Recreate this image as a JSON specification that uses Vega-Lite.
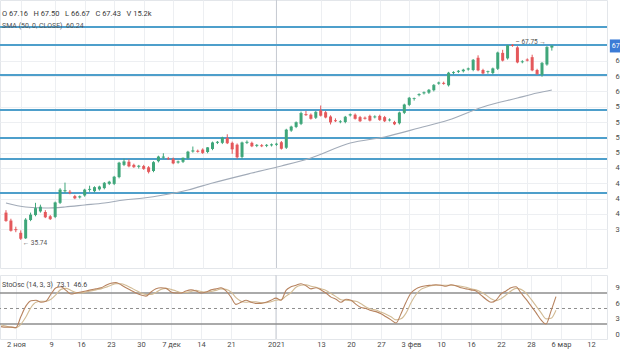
{
 "$schema": "https://vega.github.io/schema/vega-lite/v6.json",
 "autosize": {"type": "none"},
 "padding": {"left": 0, "top": 0, "right": 620, "bottom": 364},
 "background": "white",
 "config": {"view": {"stroke": "#e3e6ea", "strokeWidth": 1}},
 "spacing": 5,
 "datasets": {
  "candles": [
   {"i":0,"o":40.2,"h":40.6,"l":38.7,"c":38.9},{"i":1,"o":38.9,"h":39.2,"l":37.1,"c":37.3},{"i":2,"o":37.5,"h":37.9,"l":37.0,"c":37.4},{"i":3,"o":36.9,"h":37.3,"l":35.74,"c":36.0},
   {"i":4,"o":36.0,"h":39.3,"l":35.9,"c":39.0},{"i":5,"o":39.0,"h":40.2,"l":38.8,"c":39.8},{"i":6,"o":39.8,"h":41.8,"l":39.6,"c":40.9},{"i":7,"o":40.4,"h":41.5,"l":40.2,"c":41.1},
   {"i":8,"o":40.3,"h":40.6,"l":39.3,"c":39.5},{"i":9,"o":39.6,"h":39.8,"l":39.0,"c":39.2},{"i":10,"o":39.5,"h":42.0,"l":39.3,"c":41.8},{"i":11,"o":41.8,"h":44.2,"l":41.6,"c":43.9},
   {"i":12,"o":43.7,"h":45.1,"l":43.4,"c":43.8},{"i":13,"o":43.6,"h":43.9,"l":43.2,"c":43.5},{"i":14,"o":42.9,"h":43.1,"l":42.4,"c":42.6},{"i":15,"o":42.7,"h":43.0,"l":42.5,"c":42.8},
   {"i":16,"o":43.0,"h":44.1,"l":42.8,"c":43.9},{"i":17,"o":43.9,"h":44.6,"l":43.6,"c":44.0},{"i":18,"o":43.7,"h":44.5,"l":43.5,"c":44.3},{"i":19,"o":44.0,"h":44.6,"l":43.8,"c":44.4},
   {"i":20,"o":44.2,"h":45.2,"l":44.0,"c":45.0},{"i":21,"o":44.9,"h":45.4,"l":44.7,"c":45.2},{"i":22,"o":44.9,"h":46.2,"l":44.7,"c":46.0},{"i":23,"o":46.0,"h":48.5,"l":45.8,"c":48.3},
   {"i":24,"o":48.0,"h":49.0,"l":47.8,"c":48.5},{"i":25,"o":48.5,"h":48.9,"l":47.6,"c":47.8},{"i":26,"o":48.0,"h":48.2,"l":47.5,"c":47.7},{"i":27,"o":47.7,"h":48.0,"l":47.4,"c":47.8},
   {"i":28,"o":47.8,"h":48.0,"l":47.2,"c":47.4},{"i":29,"o":47.6,"h":47.8,"l":46.6,"c":46.9},{"i":30,"o":47.0,"h":48.6,"l":46.8,"c":48.4},{"i":31,"o":48.6,"h":49.5,"l":48.4,"c":49.3},
   {"i":32,"o":49.2,"h":49.9,"l":49.0,"c":49.3},{"i":33,"o":49.05,"h":49.3,"l":48.8,"c":49.0},{"i":34,"o":49.0,"h":49.2,"l":48.1,"c":48.3},{"i":35,"o":48.4,"h":48.7,"l":48.2,"c":48.5},
   {"i":36,"o":48.5,"h":49.2,"l":48.3,"c":49.1},{"i":37,"o":49.1,"h":50.3,"l":48.9,"c":50.1},{"i":38,"o":50.2,"h":51.0,"l":50.0,"c":50.3},{"i":39,"o":50.3,"h":50.5,"l":50.0,"c":50.2},
   {"i":40,"o":50.5,"h":50.7,"l":49.8,"c":50.0},{"i":41,"o":50.1,"h":50.9,"l":49.9,"c":50.8},{"i":42,"o":50.6,"h":51.8,"l":50.4,"c":51.6},{"i":43,"o":51.6,"h":51.9,"l":51.4,"c":51.7},
   {"i":44,"o":51.6,"h":52.6,"l":51.4,"c":52.4},{"i":45,"o":52.4,"h":53.0,"l":51.4,"c":51.6},{"i":46,"o":51.6,"h":51.8,"l":49.8,"c":50.6},{"i":47,"o":51.3,"h":51.5,"l":49.0,"c":49.3},
   {"i":48,"o":49.3,"h":51.8,"l":49.0,"c":51.6},{"i":49,"o":51.6,"h":52.0,"l":51.4,"c":51.7},{"i":50,"o":51.6,"h":51.8,"l":50.9,"c":51.1},{"i":51,"o":51.1,"h":51.4,"l":50.9,"c":51.2},
   {"i":52,"o":51.2,"h":51.4,"l":50.9,"c":51.1},{"i":53,"o":51.1,"h":51.4,"l":50.9,"c":51.2},{"i":54,"o":51.2,"h":51.5,"l":51.0,"c":51.3},{"i":55,"o":51.3,"h":51.6,"l":51.1,"c":51.4},
   {"i":56,"o":51.7,"h":51.9,"l":50.5,"c":50.7},{"i":57,"o":50.8,"h":53.9,"l":50.6,"c":53.7},{"i":58,"o":53.6,"h":54.4,"l":53.4,"c":54.2},{"i":59,"o":54.2,"h":55.1,"l":54.0,"c":54.9},
   {"i":60,"o":54.7,"h":56.7,"l":54.5,"c":56.4},{"i":61,"o":56.3,"h":56.8,"l":56.0,"c":56.2},{"i":62,"o":56.2,"h":56.4,"l":55.4,"c":55.6},{"i":63,"o":55.7,"h":56.8,"l":55.5,"c":56.6},
   {"i":64,"o":56.9,"h":57.7,"l":55.9,"c":56.1},{"i":65,"o":56.6,"h":56.8,"l":55.6,"c":55.8},{"i":66,"o":55.9,"h":56.1,"l":54.6,"c":55.0},{"i":67,"o":55.3,"h":55.6,"l":55.0,"c":55.2},
   {"i":68,"o":55.0,"h":55.3,"l":54.8,"c":55.05},{"i":69,"o":55.0,"h":56.0,"l":54.8,"c":55.8},{"i":70,"o":56.1,"h":56.4,"l":55.9,"c":56.2},{"i":71,"o":56.2,"h":56.4,"l":55.4,"c":55.6},
   {"i":72,"o":55.8,"h":56.0,"l":55.0,"c":55.2},{"i":73,"o":55.7,"h":55.9,"l":55.4,"c":55.6},{"i":74,"o":56.0,"h":56.2,"l":55.1,"c":55.3},{"i":75,"o":55.8,"h":56.1,"l":55.6,"c":55.85},
   {"i":76,"o":56.0,"h":56.2,"l":55.2,"c":55.4},{"i":77,"o":55.8,"h":56.0,"l":55.0,"c":55.2},{"i":78,"o":55.3,"h":55.6,"l":55.1,"c":55.35},{"i":79,"o":55.0,"h":55.2,"l":54.5,"c":54.7},
   {"i":80,"o":54.8,"h":56.7,"l":54.6,"c":56.5},{"i":81,"o":56.5,"h":58.0,"l":56.3,"c":57.8},{"i":82,"o":57.8,"h":59.1,"l":57.6,"c":58.9},{"i":83,"o":58.8,"h":59.0,"l":58.5,"c":58.85},
   {"i":84,"o":59.4,"h":59.7,"l":59.2,"c":59.5},{"i":85,"o":59.7,"h":60.0,"l":59.5,"c":59.8},{"i":86,"o":59.8,"h":60.4,"l":59.6,"c":60.2},{"i":87,"o":60.2,"h":61.2,"l":60.0,"c":61.0},
   {"i":88,"o":61.3,"h":61.6,"l":61.1,"c":61.4},{"i":89,"o":61.4,"h":61.6,"l":61.1,"c":61.3},{"i":90,"o":61.0,"h":63.2,"l":60.8,"c":63.0},{"i":91,"o":63.0,"h":63.3,"l":62.8,"c":63.1},
   {"i":92,"o":63.2,"h":63.5,"l":63.0,"c":63.3},{"i":93,"o":63.3,"h":63.7,"l":63.1,"c":63.5},{"i":94,"o":63.6,"h":63.9,"l":63.4,"c":63.7},{"i":95,"o":63.5,"h":65.3,"l":63.3,"c":65.1},
   {"i":96,"o":65.5,"h":65.9,"l":63.3,"c":63.5},{"i":97,"o":63.5,"h":63.7,"l":62.8,"c":63.0},{"i":98,"o":63.2,"h":63.4,"l":62.9,"c":63.25},{"i":99,"o":63.0,"h":63.9,"l":62.8,"c":63.7},
   {"i":100,"o":63.7,"h":66.5,"l":63.5,"c":66.3},{"i":101,"o":66.3,"h":66.8,"l":64.9,"c":65.1},{"i":102,"o":65.4,"h":67.6,"l":65.2,"c":67.5},{"i":103,"o":67.6,"h":67.75,"l":67.3,"c":67.5},
   {"i":104,"o":67.2,"h":67.4,"l":64.6,"c":64.8},{"i":105,"o":64.8,"h":65.1,"l":64.6,"c":64.85},{"i":106,"o":65.2,"h":65.4,"l":64.9,"c":65.1},{"i":107,"o":65.6,"h":66.0,"l":63.3,"c":63.5},
   {"i":108,"o":63.5,"h":63.7,"l":62.7,"c":62.9},{"i":109,"o":62.7,"h":64.8,"l":62.4,"c":64.6},{"i":110,"o":64.4,"h":67.4,"l":64.2,"c":67.2},{"i":111,"o":67.16,"h":67.5,"l":66.67,"c":67.43}
  ],
  "sma": [
   {"i":0,"sma":41.77},{"i":4,"sma":41.12},{"i":8,"sma":40.95},{"i":12,"sma":41.12},{"i":16,"sma":41.44},{"i":20,"sma":41.77},{"i":24,"sma":42.26},{"i":28,"sma":42.59},
   {"i":32,"sma":43.08},{"i":37,"sma":43.89},{"i":42,"sma":45.04},{"i":50,"sma":46.67},{"i":56,"sma":47.82},{"i":62,"sma":49.12},{"i":70,"sma":51.57},{"i":77,"sma":52.55},
   {"i":84,"sma":54.02},{"i":90,"sma":55.33},{"i":97,"sma":57.46},{"i":104,"sma":58.93},{"i":108,"sma":59.74},{"i":111,"sma":60.24}
  ],
  "levels": [{"v":70.53},{"v":67.59},{"v":62.69},{"v":56.97},{"v":52.39},{"v":48.96},{"v":43.4}],
  "stoch": [
   {"i":0,"k":15,"d":18},{"i":1,"k":14,"d":16},{"i":2,"k":14,"d":14},{"i":3,"k":13,"d":13},{"i":4,"k":35,"d":20},{"i":5,"k":55,"d":34},{"i":6,"k":65,"d":52},{"i":7,"k":66,"d":62},
   {"i":8,"k":62,"d":64},{"i":9,"k":64,"d":64},{"i":10,"k":78,"d":68},{"i":11,"k":90,"d":77},{"i":12,"k":92,"d":87},{"i":13,"k":85,"d":89},{"i":14,"k":78,"d":85},{"i":15,"k":80,"d":81},
   {"i":16,"k":82,"d":80},{"i":17,"k":84,"d":82},{"i":18,"k":86,"d":84},{"i":19,"k":88,"d":86},{"i":20,"k":90,"d":88},{"i":21,"k":95,"d":91},{"i":22,"k":99,"d":95},{"i":23,"k":100,"d":98},
   {"i":24,"k":96,"d":98},{"i":25,"k":90,"d":95},{"i":26,"k":85,"d":90},{"i":27,"k":80,"d":85},{"i":28,"k":76,"d":80},{"i":29,"k":74,"d":77},{"i":30,"k":82,"d":77},{"i":31,"k":88,"d":81},
   {"i":32,"k":90,"d":87},{"i":33,"k":89,"d":89},{"i":34,"k":82,"d":87},{"i":35,"k":80,"d":84},{"i":36,"k":80,"d":81},{"i":37,"k":84,"d":81},{"i":38,"k":86,"d":83},{"i":39,"k":84,"d":85},
   {"i":40,"k":80,"d":83},{"i":41,"k":82,"d":82},{"i":42,"k":86,"d":83},{"i":43,"k":88,"d":85},{"i":44,"k":90,"d":88},{"i":45,"k":84,"d":87},{"i":46,"k":72,"d":82},{"i":47,"k":58,"d":71},
   {"i":48,"k":62,"d":64},{"i":49,"k":66,"d":62},{"i":50,"k":62,"d":63},{"i":51,"k":60,"d":63},{"i":52,"k":60,"d":61},{"i":53,"k":62,"d":61},{"i":54,"k":66,"d":63},{"i":55,"k":70,"d":66},
   {"i":56,"k":66,"d":67},{"i":57,"k":85,"d":74},{"i":58,"k":92,"d":81},{"i":59,"k":95,"d":91},{"i":60,"k":98,"d":95},{"i":61,"k":94,"d":96},{"i":62,"k":88,"d":93},{"i":63,"k":90,"d":91},
   {"i":64,"k":86,"d":88},{"i":65,"k":80,"d":85},{"i":66,"k":72,"d":79},{"i":67,"k":68,"d":73},{"i":68,"k":62,"d":67},{"i":69,"k":68,"d":66},{"i":70,"k":66,"d":65},{"i":71,"k":58,"d":64},
   {"i":72,"k":52,"d":59},{"i":73,"k":50,"d":53},{"i":74,"k":46,"d":49},{"i":75,"k":44,"d":47},{"i":76,"k":40,"d":43},{"i":77,"k":34,"d":39},{"i":78,"k":28,"d":34},{"i":79,"k":22,"d":28},
   {"i":80,"k":40,"d":30},{"i":81,"k":62,"d":41},{"i":82,"k":80,"d":61},{"i":83,"k":88,"d":77},{"i":84,"k":92,"d":87},{"i":85,"k":94,"d":91},{"i":86,"k":95,"d":94},{"i":87,"k":96,"d":95},
   {"i":88,"k":95,"d":95},{"i":89,"k":93,"d":95},{"i":90,"k":96,"d":95},{"i":91,"k":94,"d":94},{"i":92,"k":90,"d":93},{"i":93,"k":88,"d":91},{"i":94,"k":86,"d":88},{"i":95,"k":84,"d":86},
   {"i":96,"k":76,"d":82},{"i":97,"k":68,"d":76},{"i":98,"k":62,"d":69},{"i":99,"k":66,"d":65},{"i":100,"k":78,"d":69},{"i":101,"k":84,"d":76},{"i":102,"k":90,"d":84},{"i":103,"k":92,"d":89},
   {"i":104,"k":80,"d":87},{"i":105,"k":68,"d":80},{"i":106,"k":55,"d":68},{"i":107,"k":42,"d":55},{"i":108,"k":28,"d":42},{"i":109,"k":20,"d":30},{"i":110,"k":45,"d":31},{"i":111,"k":73.1,"d":46.6}
  ]
 },
 "vconcat": [
  {
   "width": 607,
   "height": 268,
   "title": {"text": "O 67.16\u00a0\u00a0\u00a0H 67.50\u00a0\u00a0\u00a0L 66.67\u00a0\u00a0\u00a0C 67.43\u00a0\u00a0\u00a0V 15.2k", "subtitle": "SMA (50, 0, CLOSE)\u00a0\u00a060.24", "anchor": "start", "frame": "group", "orient": "top", "offset": -29, "dx": 2,
    "font": "Roboto", "fontSize": 7.5, "fontWeight": "normal", "color": "#3a3a3a", "subtitleFont": "Roboto", "subtitleFontSize": 7, "subtitleColor": "#555", "subtitlePadding": 4},
   "encoding": {
    "x": {"field": "i", "type": "quantitative", "scale": {"domain": [-0.2, 121.2], "nice": false, "zero": false},
     "axis": {"values": [3,10,16,22,28,34,40,46,55,64,70,76,82,88,94,100,106,112,118], "labels": false, "ticks": false, "domain": false, "grid": true, "gridColor": "#edeff2", "title": null}},
    "y": {"field": "l", "type": "quantitative", "scale": {"domain": [31.15, 74.94], "nice": false, "zero": false},
     "axis": {"orient": "right", "values": [37.5,40,42.5,45,47.5,50,52.5,55,57.5,60,62.5,65], "format": ".2f", "labelFont": "Roboto", "labelFontSize": 7.5, "labelColor": "#4a4a4a", "labelPadding": 8, "ticks": false, "domain": false, "grid": true, "gridColor": "#edeff2", "title": null}}
   },
   "layer": [
    {"data": {"values": [{"i": 55}]}, "mark": {"type": "rule", "color": "#c6cad1", "strokeWidth": 1},
     "encoding": {"y": null}},
    {"data": {"name": "levels"}, "mark": {"type": "rule", "color": "#4e9fcb", "strokeWidth": 2},
     "encoding": {"x": null, "y": {"field": "v", "type": "quantitative"}}},
    {"data": {"name": "sma"}, "mark": {"type": "line", "color": "#a2abb8", "strokeWidth": 1.2, "interpolate": "monotone"},
     "encoding": {"y": {"field": "sma", "type": "quantitative"}}},
    {"data": {"name": "candles"}, "mark": {"type": "rule", "strokeWidth": 1},
     "encoding": {"y2": {"field": "h"}, "color": {"condition": {"test": "datum.c >= datum.o", "value": "#3fa67a"}, "value": "#e4585b"}}},
    {"data": {"name": "candles"}, "mark": {"type": "bar", "size": 3},
     "encoding": {"y": {"field": "o", "type": "quantitative"}, "y2": {"field": "c"},
       "color": {"condition": {"test": "datum.c >= datum.o", "value": "#3fa67a"}, "value": "#e4585b"}}},
    {"data": {"name": "candles"}, "mark": {"type": "tick", "orient": "horizontal", "size": 3, "thickness": 1},
     "encoding": {"y": {"field": "c", "type": "quantitative"},
       "color": {"condition": {"test": "datum.c >= datum.o", "value": "#3fa67a"}, "value": "#e4585b"}}},
    {"data": {"name": "candles"}, "transform": [{"filter": "datum.i == 3"}],
     "mark": {"type": "text", "align": "left", "baseline": "middle", "font": "Roboto", "fontSize": 6.5, "color": "#555", "dx": 2, "dy": 3},
     "encoding": {"y": {"field": "l", "type": "quantitative"}, "text": {"value": "← 35.74"}}},
    {"data": {"name": "candles"}, "transform": [{"filter": "datum.i == 103"}],
     "mark": {"type": "text", "align": "left", "baseline": "middle", "font": "Roboto", "fontSize": 6.5, "color": "#555", "dx": 3, "dy": -2},
     "encoding": {"y": {"field": "h", "type": "quantitative"}, "text": {"value": "– 67.75 →"}}},
    {"data": {"name": "candles"}, "transform": [{"filter": "datum.i == 111"}],
     "mark": {"type": "point", "shape": "square", "filled": true, "size": 169, "color": "#3b7bd6", "opacity": 1, "xOffset": 64.5},
     "encoding": {"y": {"field": "c", "type": "quantitative"}}},
    {"data": {"name": "candles"}, "transform": [{"filter": "datum.i == 111"}],
     "mark": {"type": "text", "align": "left", "baseline": "middle", "font": "Roboto", "fontSize": 7, "color": "white", "dx": 60},
     "encoding": {"y": {"field": "c", "type": "quantitative"}, "text": {"field": "c", "format": ".2f"}}}
   ]
  },
  {
   "width": 607,
   "height": 64,
   "title": {"text": "StoOsc (14, 3, 3)\u00a0\u00a073.1\u00a0\u00a046.6", "anchor": "start", "frame": "group", "orient": "top", "offset": -13, "dx": 2,
    "font": "Roboto", "fontSize": 7, "fontWeight": "normal", "color": "#444"},
   "encoding": {
    "x": {"field": "i", "type": "quantitative", "scale": {"domain": [-0.2, 121.2], "nice": false, "zero": false},
     "axis": {"values": [3,10,16,22,28,34,40,46,55,64,70,76,82,88,94,100,106,112,118],
      "labelExpr": "datum.value == 3 ? '2 ноя' : datum.value == 10 ? '9' : datum.value == 16 ? '16' : datum.value == 22 ? '23' : datum.value == 28 ? '30' : datum.value == 34 ? '7 дек' : datum.value == 40 ? '14' : datum.value == 46 ? '21' : datum.value == 55 ? '2021' : datum.value == 64 ? '13' : datum.value == 70 ? '20' : datum.value == 76 ? '27' : datum.value == 82 ? '3 фев' : datum.value == 88 ? '10' : datum.value == 94 ? '16' : datum.value == 100 ? '22' : datum.value == 106 ? '28' : datum.value == 112 ? '6 мар' : '12'",
      "labelFont": "Roboto", "labelFontSize": 7.5, "labelColor": "#4a4a4a", "labelPadding": 1, "labelFlush": false, "labelOverlap": false, "ticks": false, "domain": false, "grid": true, "gridColor": "#edeff2", "title": null}},
    "y": {"field": "d", "type": "quantitative", "scale": {"domain": [-9, 114.8], "nice": false, "zero": false},
     "axis": {"orient": "right", "values": [0, 30, 60, 90], "format": ".2f", "labelFont": "Roboto", "labelFontSize": 7.5, "labelColor": "#4a4a4a", "labelPadding": 8, "ticks": false, "domain": false, "grid": false, "title": null}}
   },
   "layer": [
    {"data": {"values": [{"i": 55}]}, "mark": {"type": "rule", "color": "#c6cad1", "strokeWidth": 1},
     "encoding": {"y": null}},
    {"data": {"values": [{"v": 80}, {"v": 20}]}, "mark": {"type": "rule", "color": "#8e8e8e", "strokeWidth": 1.5},
     "encoding": {"x": null, "y": {"field": "v", "type": "quantitative"}}},
    {"data": {"values": [{"v": 50}]}, "mark": {"type": "rule", "color": "#8e8e8e", "strokeWidth": 1, "strokeDash": [3, 3]},
     "encoding": {"x": null, "y": {"field": "v", "type": "quantitative"}}},
    {"data": {"name": "stoch"}, "mark": {"type": "line", "color": "#d2bb94", "strokeWidth": 1.1, "interpolate": "monotone"},
     "encoding": {"y": {"field": "d", "type": "quantitative"}}},
    {"data": {"name": "stoch"}, "mark": {"type": "line", "color": "#b7835f", "strokeWidth": 1.1, "interpolate": "monotone"},
     "encoding": {"y": {"field": "k", "type": "quantitative"}}}
   ]
  }
 ]
}
